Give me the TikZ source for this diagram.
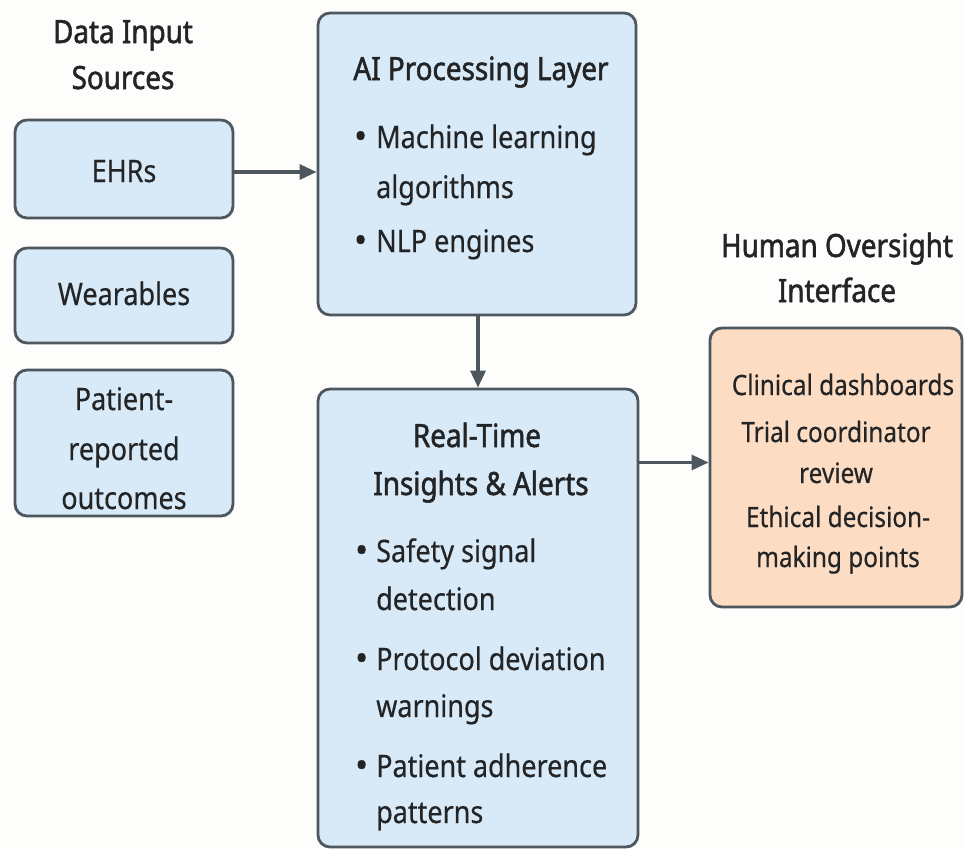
\documentclass[tikz,border=0pt]{standalone}
\usepackage{fontspec}
\setmainfont{Noto Sans}[FakeStretch=0.87, FakeBold=0.4]
\newfontfamily\headfont{Noto Sans}[FakeStretch=0.87, FakeBold=1.6]
\newfontfamily\dotfont{Noto Sans}[FakeBold=1.5]
\usetikzlibrary{arrows.meta}

\definecolor{boxblue}{HTML}{D8EAF8}
\definecolor{boxpeach}{HTML}{FCDCC3}
\definecolor{edgegray}{HTML}{4E565E}
\definecolor{inkdark}{HTML}{222426}
\definecolor{paper}{HTML}{FDFDFC}

\tikzset{
  panel/.style={draw=edgegray, line width=2.8pt, rounded corners=12pt, inner sep=0pt},
  bluepanel/.style={panel, fill=boxblue},
  peachpanel/.style={panel, fill=boxpeach},
  flow/.style={draw=edgegray, line width=3.2pt, -{Triangle[length=17pt,width=15pt]}},
  heading/.style={inner sep=0pt, anchor=base, text=inkdark, font=\fontsize{32}{36}\selectfont\headfont},
  subhead/.style={inner sep=0pt, anchor=base, text=inkdark, font=\fontsize{32}{34}\selectfont\headfont},
  label/.style={inner sep=0pt, anchor=base, text=inkdark, font=\fontsize{31}{36}\selectfont},
  item/.style={inner sep=0pt, anchor=base west, text=inkdark, font=\fontsize{31}{36}\selectfont},
  dot/.style={inner sep=0pt, anchor=base west, text=inkdark, font=\fontsize{34}{36}\selectfont\dotfont},
  smalllabel/.style={inner sep=0pt, anchor=base, text=inkdark, font=\fontsize{28}{33}\selectfont},
}

\begin{document}
\begin{tikzpicture}[x=1pt, y=-1pt]
  % canvas
  \fill[paper] (0,0) rectangle (965,849);
  \useasboundingbox (0,0) rectangle (965,849);

  % boxes
  \node[bluepanel, minimum width=218pt, minimum height=98pt] (ehr) at (124,169) {};
  \node[bluepanel, minimum width=218pt, minimum height=95pt] (wear) at (124,295.5) {};
  \node[bluepanel, minimum width=218pt, minimum height=146pt] (pro) at (124,443) {};
  \node[bluepanel, minimum width=318pt, minimum height=302pt] (ai) at (477,164) {};
  \node[bluepanel, minimum width=320pt, minimum height=458pt] (rt) at (478,618) {};
  \node[peachpanel, minimum width=252pt, minimum height=279pt] (hum) at (836,467.5) {};

  % column headings
  \node[heading] (h1a) at (123,43) {Data Input};
  \node[heading] (h1b) at (123,89) {Sources};
  \node[heading] (h4a) at (837,257) {Human Oversight};
  \node[heading] (h4b) at (837,302) {Interface};

  % data sources
  \node[label] (t1) at (124,182) {EHRs};
  \node[label] (t2) at (124,305) {Wearables};
  \node[label] (t3a) at (124,410) {Patient-};
  \node[label] (t3b) at (124,460) {reported};
  \node[label] (t3c) at (124,509) {outcomes};

  % AI processing layer
  \node[subhead] (ait) at (481,80) {AI Processing Layer};
  \node[dot] (aib1) at (354,148) {\textbullet};
  \node[item] (ai1a) at (376,148) {Machine learning};
  \node[item] (ai1b) at (376,198) {algorithms};
  \node[dot] (aib2) at (354,252) {\textbullet};
  \node[item] (ai2) at (376,252) {NLP engines};

  % real-time insights
  \node[subhead] (rtta) at (477,447) {Real-Time};
  \node[subhead] (rttb) at (481,495) {Insights \& Alerts};
  \node[dot] (rtb1) at (355,562) {\textbullet};
  \node[item] (rt1a) at (376,562) {Safety signal};
  \node[item] (rt1b) at (376,610) {detection};
  \node[dot] (rtb2) at (355,670) {\textbullet};
  \node[item] (rt2a) at (376,670) {Protocol deviation};
  \node[item] (rt2b) at (376,717) {warnings};
  \node[dot] (rtb3) at (355,777) {\textbullet};
  \node[item] (rt3a) at (376,777) {Patient adherence};
  \node[item] (rt3b) at (376,823) {patterns};

  % human oversight
  \node[smalllabel] (hu1) at (843,395) {Clinical dashboards};
  \node[smalllabel] (hu2a) at (836,442) {Trial coordinator};
  \node[smalllabel] (hu2b) at (836,483) {review};
  \node[smalllabel] (hu3a) at (838,527) {Ethical decision-};
  \node[smalllabel] (hu3b) at (838,567) {making points};

  % connectors
  \draw[flow] ([yshift=-3pt]ehr.east) -- ([yshift=-3pt]ehr.east -| ai.west);
  \draw[flow] ([xshift=1pt]ai.south) -- ([xshift=1pt]ai.south |- rt.north);
  \draw[flow] ([yshift=5pt]hum.west -| rt.east) -- ([yshift=5pt]hum.west);
\end{tikzpicture}
\end{document}
